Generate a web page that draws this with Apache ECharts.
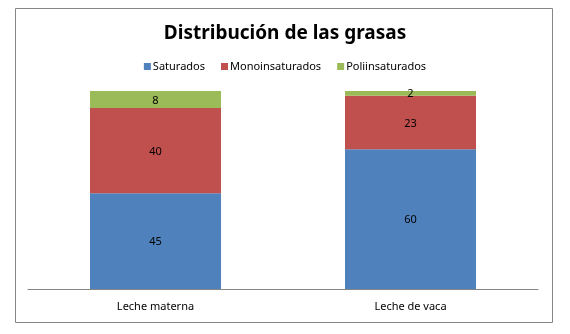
<!DOCTYPE html>
<html>
<head>
<meta charset="utf-8">
<script src="https://cdn.jsdelivr.net/npm/echarts@6/dist/echarts.min.js"></script>
<style>
html,body{margin:0;padding:0;background:#fff;}
#c{width:570px;height:334px;}
</style>
</head>
<body>
<div id="c"></div>
<script>
const categories = ['Leche materna', 'Leche de vaca'];
const saturados = [45, 60];
const monoinsaturados = [40, 23];
const poliinsaturados = [8, 2];
const seriesNames = ['Saturados', 'Monoinsaturados', 'Poliinsaturados'];
const colors = ['#4F81BD', '#C0504D', '#9BBB59'];

const raw = [saturados, monoinsaturados, poliinsaturados];
const totals = categories.map((_, i) => raw.reduce((s, arr) => s + arr[i], 0));
const font = '"Noto Sans", sans-serif';

const chart = echarts.init(document.getElementById('c'), null, {renderer: 'canvas'});
chart.setOption({
  animation: false,
  backgroundColor: '#fff',
  title: {
    text: 'Distribución de las grasas',
    left: 'center',
    top: 19,
    textStyle: {fontFamily: font, fontWeight: 'bold', fontSize: 19, color: '#000'}
  },
  legend: {
    data: seriesNames,
    top: 56,
    left: 'center',
    itemWidth: 7,
    itemHeight: 7,
    itemGap: 16,
    icon: 'rect',
    textStyle: {fontFamily: font, fontSize: 11, color: '#000', padding: [0, 0, 0, -3]}
  },
  graphic: [{
    type: 'rect',
    shape: {x: 15.5, y: 8.5, width: 537, height: 314},
    style: {fill: 'none', stroke: '#868686', lineWidth: 1},
    silent: true
  }],
  grid: {left: 28, right: 32, top: 91, bottom: 45, containLabel: false},
  xAxis: {
    type: 'category',
    data: categories,
    axisLine: {lineStyle: {color: '#868686'}},
    axisTick: {show: false},
    axisLabel: {fontFamily: font, fontSize: 11, color: '#000', margin: 12}
  },
  yAxis: {
    type: 'value',
    min: 0,
    max: 100,
    show: false,
    splitLine: {show: false}
  },
  series: seriesNames.map((name, k) => ({
    name: name,
    type: 'bar',
    stack: 'total',
    barWidth: 131,
    itemStyle: {color: colors[k]},
    label: {
      show: true,
      position: 'inside',
      offset: [0, 1],
      fontFamily: font,
      fontSize: 11,
      color: '#000',
      formatter: p => String(raw[k][p.dataIndex])
    },
    data: raw[k].map((v, i) => v / totals[i] * 100)
  }))
});
</script>
</body>
</html>
